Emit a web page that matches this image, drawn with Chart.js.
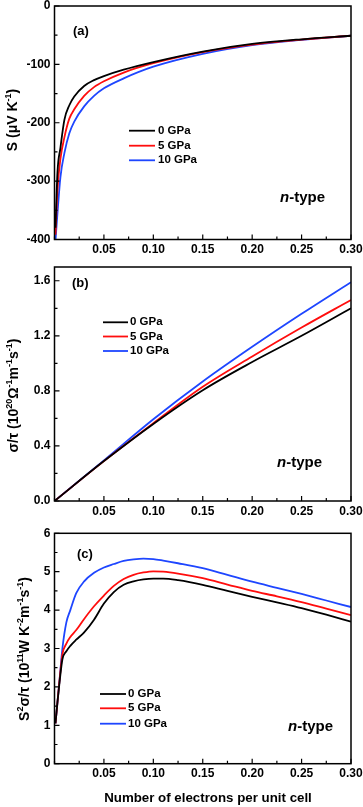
<!DOCTYPE html>
<html>
<head>
<meta charset="utf-8">
<script src="https://cdn.jsdelivr.net/npm/chart.js@4.4.1/dist/chart.umd.min.js"></script>
<style>
html,body{margin:0;padding:0;background:#fff;}
#wrap{position:relative;width:363px;height:807px;overflow:hidden;}
canvas{position:absolute;left:0;top:0;}
</style>
</head>
<body>
<div id="wrap">
  <canvas id="chartA" width="363" height="807"></canvas>
  <canvas id="chartB" width="363" height="807"></canvas>
  <canvas id="chartC" width="363" height="807"></canvas>
</div>
<script>
/* DATA */
const seriesNames = ["0 GPa", "5 GPa", "10 GPa"];
const seriesColors = ["#000000", "#ff0d0d", "#1e46ff"];

// (a) Seebeck coefficient S (uV/K)
const nA = [0.001, 0.003, 0.006, 0.01, 0.015, 0.02, 0.03, 0.04, 0.05, 0.07, 0.10, 0.15, 0.20, 0.25, 0.30];
const sA0  = [-380, -285, -243, -195, -170, -155, -137, -127, -120, -109, -96, -78, -65, -57, -51];
const sA5  = [-392, -315, -262, -225, -193, -177, -154, -139, -129, -114, -98, -79, -66, -57.5, -51];
const sA10 = [-402, -355, -293, -252, -218, -198, -172, -154, -141, -124, -104, -82, -67, -58, -51];

// (b) electrical conductivity sigma/tau (1e20 / Ohm m s)
const nB = [0, 0.05, 0.10, 0.15, 0.20, 0.25, 0.30];
const sigB0  = [0, 0.29, 0.56, 0.805, 1.01, 1.20, 1.40];
const sigB5  = [0, 0.29, 0.565, 0.83, 1.05, 1.26, 1.46];
const sigB10 = [0, 0.295, 0.594, 0.868, 1.12, 1.36, 1.59];

// (c) power factor S^2 sigma/tau (1e11 W / K^2 m s)
const nC = [0.001, 0.003, 0.005, 0.008, 0.012, 0.016, 0.022, 0.03, 0.04, 0.05, 0.06, 0.07, 0.08, 0.09, 0.10, 0.11, 0.125, 0.15, 0.175, 0.20, 0.225, 0.25, 0.275, 0.30];
const pfC0  = [1.05, 1.6, 2.1, 2.72, 2.93, 3.07, 3.23, 3.42, 3.75, 4.17, 4.47, 4.66, 4.75, 4.8, 4.82, 4.82, 4.78, 4.66, 4.5, 4.345, 4.2, 4.05, 3.88, 3.7];
const pfC5  = [1.05, 1.6, 2.15, 2.85, 3.13, 3.3, 3.48, 3.77, 4.1, 4.38, 4.63, 4.81, 4.92, 4.98, 5.01, 5.0, 4.95, 4.83, 4.665, 4.5, 4.36, 4.21, 4.04, 3.87];
const pfC10 = [1.05, 1.6, 2.15, 3.0, 3.68, 4.0, 4.44, 4.75, 4.97, 5.11, 5.2, 5.28, 5.32, 5.34, 5.33, 5.29, 5.22, 5.09, 4.915, 4.74, 4.58, 4.42, 4.25, 4.08];

/* LAYOUT */
const W = 363, H = 807;
const PLOT_L = 54.5, PLOT_R = 351, XAXIS_H = 22;
const FONT = "'Liberation Sans', Arial, sans-serif";

function font(size, italic){
  return (italic ? "italic " : "") + "bold " + size + "px " + FONT;
}

function isMultiple(v, step){
  const k = v / step;
  return Math.abs(k - Math.round(k)) < 1e-6;
}

// text with superscripts, optionally rotated
function richText(ctx, parts, x, y, size, rotate){
  ctx.save();
  ctx.translate(x, y);
  if (rotate) ctx.rotate(-Math.PI / 2);
  const sup = Math.round(size * 0.66);
  let w = 0;
  parts.forEach(p => { ctx.font = font(p.sup ? sup : size, p.it); w += ctx.measureText(p.t).width; });
  let cx = -w / 2;
  ctx.textAlign = "left";
  ctx.textBaseline = "alphabetic";
  ctx.fillStyle = "#000";
  parts.forEach(p => {
    ctx.font = font(p.sup ? sup : size, p.it);
    ctx.fillText(p.t, cx, p.sup ? -size * 0.42 : 0);
    cx += ctx.measureText(p.t).width;
  });
  ctx.restore();
}

/* frame, inward ticks, legend and labels */
const decorPlugin = {
  id: "panelDecor",
  afterDatasetsDraw(chart, args, o){
    const ctx = chart.ctx, a = chart.chartArea;
    const xs = chart.scales.x, ys = chart.scales.y;
    ctx.save();
    ctx.strokeStyle = "#000";
    ctx.lineWidth = 1.5;
    ctx.strokeRect(a.left, a.top, a.right - a.left, a.bottom - a.top);
    ctx.lineWidth = 1.2;
    ctx.beginPath();
    xs.ticks.forEach((t, i) => {
      const px = xs.getPixelForTick(i);
      const len = t.label ? 5 : 3;
      ctx.moveTo(px, a.bottom); ctx.lineTo(px, a.bottom - len);
    });
    ys.ticks.forEach((t, i) => {
      const py = ys.getPixelForTick(i);
      const len = t.label ? 5 : 3;
      ctx.moveTo(a.left, py); ctx.lineTo(a.left + len, py);
    });
    ctx.stroke();

    // legend
    const lg = o.legend;
    chart.data.datasets.forEach((ds, i) => {
      const y = lg.ys[i];
      ctx.strokeStyle = ds.borderColor;
      ctx.lineWidth = 1.8;
      ctx.beginPath(); ctx.moveTo(lg.x1, y); ctx.lineTo(lg.x2, y); ctx.stroke();
      ctx.fillStyle = "#000";
      ctx.font = font(11.5);
      ctx.textAlign = "left"; ctx.textBaseline = "middle";
      ctx.fillText(ds.label, lg.tx, y);
    });

    // panel tag
    ctx.font = font(13);
    ctx.textAlign = "left"; ctx.textBaseline = "middle";
    ctx.fillText(o.tag, o.tagPos[0], o.tagPos[1]);

    // n-type
    ctx.font = font(15, true);
    ctx.fillText("n", o.typePos[0], o.typePos[1]);
    const nw = ctx.measureText("n").width;
    ctx.font = font(15);
    ctx.fillText("-type", o.typePos[0] + nw, o.typePos[1]);

    // axis titles
    richText(ctx, o.yTitle, o.yTitlePos[0], o.yTitlePos[1], 14, true);
    if (o.xTitle) {
      ctx.font = font(13.3);
      ctx.textAlign = "center"; ctx.textBaseline = "middle";
      ctx.fillStyle = "#000";
      ctx.fillText(o.xTitle, o.xTitlePos[0], o.xTitlePos[1]);
    }
    ctx.restore();
  }
};

function makeChart(id, cfg){
  const datasets = cfg.series.map((ys, i) => ({
    label: seriesNames[i],
    data: cfg.x.map((x, j) => ({x: x, y: ys[j]})),
    borderColor: seriesColors[i],
    borderWidth: 1.8,
    pointRadius: 0,
    fill: false,
    cubicInterpolationMode: "monotone"
  }));
  return new Chart(document.getElementById(id), {
    type: "line",
    data: {datasets},
    options: {
      responsive: false,
      animation: false,
      events: [],
      layout: {padding: {top: cfg.top, bottom: H - cfg.bottom - XAXIS_H, left: 0, right: W - PLOT_R}},
      plugins: {legend: {display: false}, tooltip: {enabled: false}, panelDecor: cfg.decor},
      scales: {
        x: {
          type: "linear", min: 0, max: 0.3,
          grid: {display: false, drawTicks: false}, border: {display: false},
          ticks: {
            stepSize: 0.025, maxTicksLimit: 100, autoSkip: false, maxRotation: 0,
            includeBounds: false, padding: 3, color: "#000", font: {family: FONT, size: 12, weight: "bold"},
            callback: v => (v > 1e-9 && isMultiple(v, 0.05)) ? v.toFixed(2) : ""
          },
          afterFit: s => { s.height = XAXIS_H; s.paddingLeft = 0; s.paddingRight = 0; }
        },
        y: {
          type: "linear", min: cfg.yMin, max: cfg.yMax,
          grid: {display: false, drawTicks: false}, border: {display: false},
          ticks: {
            stepSize: cfg.yStep, maxTicksLimit: 100, autoSkip: false,
            includeBounds: false, padding: 4, color: "#000", font: {family: FONT, size: 12, weight: "bold"},
            callback: v => isMultiple(v, cfg.yLabelStep) ? v.toFixed(cfg.yDec) : ""
          },
          afterFit: s => { s.width = PLOT_L; s.paddingTop = 0; s.paddingBottom = 0; }
        }
      }
    },
    plugins: [decorPlugin]
  });
}

makeChart("chartA", {
  x: nA, series: [sA0, sA5, sA10],
  top: 6, bottom: 239.5,
  yMin: -400, yMax: 0, yStep: 50, yLabelStep: 100, yDec: 0,
  decor: {
    tag: "(a)", tagPos: [73, 31], typePos: [280, 198],
    legend: {x1: 129, x2: 155, tx: 158, ys: [130.7, 145.7, 160.3]},
    yTitle: [{t: "S (\u03bcV K"}, {t: "-1", sup: true}, {t: ")"}],
    yTitlePos: [17, 120]
  }
});

makeChart("chartB", {
  x: nB, series: [sigB0, sigB5, sigB10],
  top: 267, bottom: 501,
  yMin: 0, yMax: 1.7, yStep: 0.2, yLabelStep: 0.4, yDec: 1,
  decor: {
    tag: "(b)", tagPos: [72, 283], typePos: [277, 463],
    legend: {x1: 103, x2: 128, tx: 130, ys: [322.3, 336.5, 351]},
    yTitle: [{t: "\u03c3/\u03c4 (10"}, {t: "20", sup: true}, {t: "\u03a9"}, {t: "-1", sup: true},
             {t: "m"}, {t: "-1", sup: true}, {t: "s"}, {t: "-1", sup: true}, {t: ")"}],
    yTitlePos: [17.5, 395.5]
  }
});

makeChart("chartC", {
  x: nC, series: [pfC0, pfC5, pfC10],
  top: 533.3, bottom: 763.7,
  yMin: 0, yMax: 6, yStep: 0.5, yLabelStep: 1, yDec: 0,
  decor: {
    tag: "(c)", tagPos: [77, 554], typePos: [288, 727],
    legend: {x1: 100, x2: 126, tx: 128, ys: [694, 708.3, 723.7]},
    yTitle: [{t: "S"}, {t: "2", sup: true}, {t: "\u03c3/\u03c4 (10"}, {t: "11", sup: true}, {t: "W K"},
             {t: "-2", sup: true}, {t: "m"}, {t: "-1", sup: true}, {t: "s"}, {t: "-1", sup: true}, {t: ")"}],
    yTitlePos: [28.5, 649],
    xTitle: "Number of electrons per unit cell", xTitlePos: [208, 798]
  }
});
</script>
</body>
</html>
